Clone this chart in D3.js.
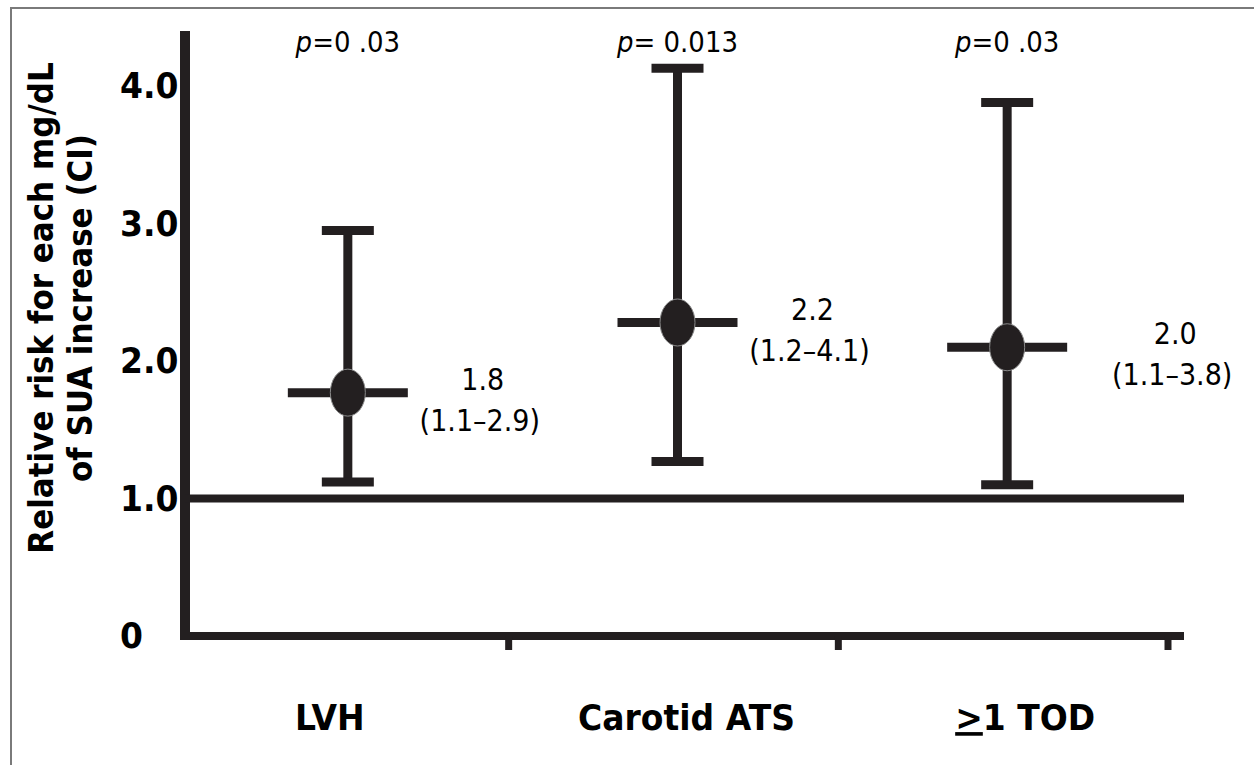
<!DOCTYPE html>
<html>
<head>
<meta charset="utf-8">
<script src="https://cdn.jsdelivr.net/npm/d3@7"></script>
<style>
  html, body { margin: 0; padding: 0; background: #fff; }
  svg { display: block; }
  text { font-family: "DejaVu Sans", Verdana, sans-serif; fill: #000; }
</style>
</head>
<body>
<svg id="chart" width="1254" height="765"></svg>
<script>
// ---------- data ----------
const categories = ["LVH", "Carotid ATS", ">1 TOD"];
const estimates  = [1.77, 2.28, 2.10];
const lowerCI    = [1.12, 1.27, 1.10];
const upperCI    = [2.95, 4.13, 3.88];
const pLabels    = ["p=0 .03", "p= 0.013", "p=0 .03"];
const riskLabels = ["1.8", "2.2", "2.0"];
const ciLabels   = ["(1.1–2.9)", "(1.2–4.1)", "(1.1–3.8)"];
const yTickValues = [0, 1, 2, 3, 4];
const yTickLabels = ["0", "1.0", "2.0", "3.0", "4.0"];
const yTitleLines = ["Relative risk for each mg/dL", "of SUA increase (CI)"];
const referenceValue = 1.0;

// ---------- layout ----------
const ink = "#231f20";
const labelDx = [135, 135, 168];
const catLabelDx = [-18, 9, 18];
const stretch = 1.1;

const svg = d3.select("#chart");

// outer frame
svg.append("rect")
  .attr("x", 11).attr("y", 8).attr("width", 1400).attr("height", 900)
  .attr("fill", "none").attr("stroke", "#7a7a7a").attr("stroke-width", 2);

const x = d3.scaleBand().domain(categories).range([183, 1172]).paddingInner(0).paddingOuter(0);
const y = d3.scaleLinear().domain([0, 4.4]).range([636, 31]);

const axisX0 = 185;
const axisRight = 1184;

// y axis line
svg.append("line")
  .attr("x1", axisX0).attr("x2", axisX0)
  .attr("y1", y(4.4)).attr("y2", y(0) + 4)
  .attr("stroke", ink).attr("stroke-width", 10);

// baseline (x axis)
svg.append("line")
  .attr("x1", axisX0 - 5).attr("x2", axisRight)
  .attr("y1", y(0)).attr("y2", y(0))
  .attr("stroke", ink).attr("stroke-width", 8);

// x ticks at band boundaries
const tickPositions = categories.map(c => x(c) + x.bandwidth());
svg.selectAll("line.xtick").data(tickPositions).enter().append("line")
  .attr("class", "xtick")
  .attr("x1", d => d - 4).attr("x2", d => d - 4)
  .attr("y1", y(0)).attr("y2", y(0) + 14)
  .attr("stroke", ink).attr("stroke-width", 7);

// reference line at 1.0
svg.append("line")
  .attr("x1", axisX0).attr("x2", axisRight)
  .attr("y1", y(referenceValue)).attr("y2", y(referenceValue))
  .attr("stroke", ink).attr("stroke-width", 8);

// y tick labels (left aligned)
svg.selectAll("text.ytick").data(yTickValues).enter().append("text")
  .attr("class", "ytick")
  .attr("transform", d => `translate(120,${y(d) + 12}) scale(1,${stretch})`)
  .attr("font-size", 33).attr("font-weight", "bold")
  .text((d, i) => yTickLabels[i]);

// y title
const yTitle = svg.append("text")
  .attr("transform", `translate(53,308) rotate(-90) scale(1,${stretch})`)
  .attr("text-anchor", "middle")
  .attr("font-size", 31).attr("font-weight", "bold");
yTitleLines.forEach((t, i) => {
  yTitle.append("tspan").attr("x", 0).attr("dy", i === 0 ? 0 : 39 / stretch).text(t);
});

// error bars
const cx = i => x(categories[i]) + x.bandwidth() / 2;
const idx = d3.range(categories.length);

const g = svg.append("g");
g.selectAll("line.whisker").data(idx).enter().append("line")
  .attr("x1", cx).attr("x2", cx)
  .attr("y1", i => y(upperCI[i])).attr("y2", i => y(lowerCI[i]))
  .attr("stroke", ink).attr("stroke-width", 9);
g.selectAll("line.capU").data(idx).enter().append("line")
  .attr("x1", i => cx(i) - 26).attr("x2", i => cx(i) + 26)
  .attr("y1", i => y(upperCI[i])).attr("y2", i => y(upperCI[i]))
  .attr("stroke", ink).attr("stroke-width", 9);
g.selectAll("line.capL").data(idx).enter().append("line")
  .attr("x1", i => cx(i) - 26).attr("x2", i => cx(i) + 26)
  .attr("y1", i => y(lowerCI[i])).attr("y2", i => y(lowerCI[i]))
  .attr("stroke", ink).attr("stroke-width", 9);
g.selectAll("line.est").data(idx).enter().append("line")
  .attr("x1", i => cx(i) - 60).attr("x2", i => cx(i) + 60)
  .attr("y1", i => y(estimates[i])).attr("y2", i => y(estimates[i]))
  .attr("stroke", ink).attr("stroke-width", 9);
g.selectAll("ellipse").data(idx).enter().append("ellipse")
  .attr("cx", cx).attr("cy", i => y(estimates[i]))
  .attr("rx", 17.5).attr("ry", 23.5)
  .attr("fill", ink).attr("stroke", "#8a8a8a").attr("stroke-width", 1);

// estimate labels
idx.forEach(i => {
  const lx = cx(i) + labelDx[i];
  const ly = y(estimates[i]) - 3;
  svg.append("text").attr("transform", `translate(${lx},${ly}) scale(1,${stretch})`)
    .attr("text-anchor", "middle").attr("font-size", 27).text(riskLabels[i]);
  svg.append("text").attr("transform", `translate(${lx - 3},${ly + 41}) scale(1,${stretch})`)
    .attr("text-anchor", "middle").attr("font-size", 27).text(ciLabels[i]);
});

// p-values
idx.forEach(i => {
  const s = pLabels[i];
  const t = svg.append("text").attr("transform", `translate(${cx(i)},52) scale(1,${stretch})`)
    .attr("text-anchor", "middle").attr("font-size", 26);
  t.append("tspan").attr("font-style", "italic").text(s[0]);
  t.append("tspan").text(s.slice(1));
});

// category labels
idx.forEach(i => {
  const c = categories[i];
  const t = svg.append("text")
    .attr("transform", `translate(${cx(i) + catLabelDx[i]},730) scale(1,${stretch})`)
    .attr("text-anchor", "middle").attr("font-size", 33).attr("font-weight", "bold");
  if (c[0] === ">") {
    t.append("tspan").attr("text-decoration", "underline").text(">");
    t.append("tspan").text(c.slice(1));
  } else {
    t.text(c);
  }
});
</script>
</body>
</html>
